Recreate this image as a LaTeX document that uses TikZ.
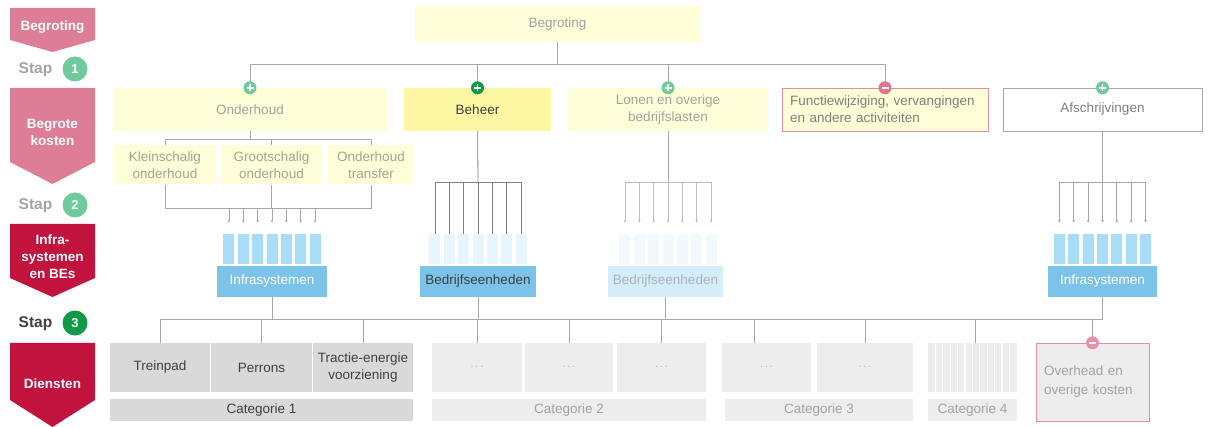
\documentclass[tikz,border=0pt]{standalone}
\usepackage{fontspec}
\setmainfont{Liberation Sans}
\usetikzlibrary{arrows.meta}

\definecolor{pinkarrow}{HTML}{DE7E96}
\definecolor{redarrow}{HTML}{C2123E}
\definecolor{lightgreen}{HTML}{6FCB9C}
\definecolor{darkgreen}{HTML}{0F9B45}
\definecolor{paleyellow}{HTML}{FEFED8}
\definecolor{beheeryellow}{HTML}{FDF7A4}
\definecolor{linegray}{HTML}{A8A8A8}
\definecolor{darkline}{HTML}{7F7F7F}
\definecolor{paleline}{HTML}{BDBDBD}
\definecolor{textgray}{HTML}{A3A3A3}
\definecolor{subtext}{HTML}{A5A596}
\definecolor{darktext}{HTML}{404040}
\definecolor{pinkline}{HTML}{E68BA1}
\definecolor{signpink}{HTML}{E07592}
\definecolor{barblue}{HTML}{A9DCF8}
\definecolor{boxblue}{HTML}{7CC3EA}
\definecolor{palebar}{HTML}{E8F5FC}
\definecolor{palerbar}{HTML}{F2F9FD}
\definecolor{palebox}{HTML}{D4EDFB}
\definecolor{servgray}{HTML}{D9D9D9}
\definecolor{lightserv}{HTML}{EDEDED}

\begin{document}
\begin{tikzpicture}[x=1pt, y=-1pt, font=\fontsize{13.5}{17}\selectfont,
    box/.style={inner sep=0pt, align=center, fill=paleyellow, text=textgray, minimum height=43pt},
    subbox/.style={inner sep=0pt, align=center, fill=paleyellow, text=subtext, minimum height=39pt},
    bluebox/.style={inner sep=0pt, fill=boxblue, text=white, minimum height=31pt},
    fanbar/.style={inner sep=0pt, minimum width=11pt, minimum height=30pt, fill=#1},
    serv/.style={inner sep=0pt, align=center, fill=servgray, text=darktext, minimum height=49pt},
    pale/.style={inner sep=0pt, fill=lightserv, text=textgray, minimum height=49pt,
        font=\fontsize{11}{11}\selectfont},
    cat/.style={inner sep=0pt, fill=servgray, text=darktext, minimum height=22pt},
    link/.style={draw=linegray, line width=0.8pt},
    fantip/.style={-{Stealth[length=3pt,width=2.5pt]}, shorten >=11pt},
    sign/.style={circle, fill=#1, minimum size=13pt, inner sep=0pt},
    plussign/.style={sign=#1, path picture={
        \draw[white, line width=1.5pt]
          ([xshift=-3.5pt]path picture bounding box.center) -- ([xshift=3.5pt]path picture bounding box.center)
          ([yshift=-3.5pt]path picture bounding box.center) -- ([yshift=3.5pt]path picture bounding box.center);}},
    minsign/.style={sign=#1, path picture={
        \draw[white, line width=1.5pt]
          ([xshift=-3.5pt]path picture bounding box.center) -- ([xshift=3.5pt]path picture bounding box.center);}},
    chev/.style={text=white, font=\fontsize{13.5}{17}\selectfont\bfseries, align=center},
    staptext/.style={text=#1, font=\fontsize{15.5}{16}\selectfont\bfseries},
    stapnum/.style={circle, fill=#1, text=white, minimum size=25pt, inner sep=0pt,
        font=\fontsize{13}{13}\selectfont\bfseries}]

    \useasboundingbox (0,0) rectangle (1211,427);

    % left column
    \fill[pinkarrow] (10,8) -- (95,8) -- (95,40) -- (52.5,52) -- (10,40) -- cycle;
    \node[chev] (aBegroting) at (52.5,27) {Begroting};
    \node[staptext=textgray] (stap1) at (35.5,70) {Stap};
    \node[stapnum=lightgreen] (num1) at (75,69) {1};
    \fill[pinkarrow] (10,88) -- (95,88) -- (95,162) -- (52.5,184) -- (10,162) -- cycle;
    \node[chev] (aKosten) at (52.5,132) {Begrote\\kosten};
    \node[staptext=textgray] (stap2) at (35.5,206) {Stap};
    \node[stapnum=lightgreen] (num2) at (75,205) {2};
    \fill[redarrow] (10,224) -- (95,224) -- (95,278) -- (52.5,297) -- (10,278) -- cycle;
    \node[chev] (aInfra) at (52.5,257) {Infra-\\systemen\\en BEs};
    \node[staptext=darktext] (stap3) at (35.5,324) {Stap};
    \node[stapnum=darkgreen] (num3) at (75,323) {3};
    \fill[redarrow] (10,343) -- (95,343) -- (95,400) -- (52.5,427) -- (10,400) -- cycle;
    \node[chev] (aDiensten) at (52.5,384) {Diensten};

    % begroting and costs
    \node[box, minimum width=285pt, minimum height=36pt] (begr) at (557.5,24) {Begroting};
    \coordinate (jTop) at (557.5,64);
    \node[box, minimum width=274pt] (ond) at (250,109.5) {Onderhoud};
    \node[box, fill=beheeryellow, text=darktext, minimum width=147pt] (beh) at (477.5,109.5) {Beheer};
    \node[box, minimum width=200pt] (lon) at (668,109.5) {Lonen en overige\\bedrijfslasten};
    \node[box, draw=pinkline, align=left, text=gray, text width=190pt, inner xsep=8pt] (fun) at (885,109.5)
        {Functiewijziging, vervangingen\\en andere activiteiten};
    \node[box, fill=white, draw=linegray, text=gray, minimum width=199pt] (afs) at (1102.5,109.5) {Afschrijvingen};

    \draw[link] (begr) -- (jTop);
    \draw[link] (ond.north |- jTop) -- (fun.north |- jTop);
    \foreach \n in {ond,beh,lon,fun}
        \draw[link] (\n.north |- jTop) -- (\n.north);

    % onderhoud split
    \node[subbox, minimum width=102pt] (klein) at (165,165) {Kleinschalig\\onderhoud};
    \node[subbox, minimum width=101pt] (groot) at (271.5,165) {Grootschalig\\onderhoud};
    \node[subbox, minimum width=86pt] (transf) at (371,165) {Onderhoud\\transfer};
    \coordinate (jOnd) at (250,139);
    \draw[link] (ond) -- (jOnd);
    \draw[link] (klein.north) -- (klein.north |- jOnd) -- (transf.north |- jOnd) -- (transf.north);
    \draw[link] (groot.north |- jOnd) -- (groot.north);

    % fans to infrasystemen / bedrijfseenheden
    \coordinate (jInfA) at (272,208);
    \coordinate (jBeh) at (478,182);
    \coordinate (jLon) at (668,182);
    \coordinate (jAfs) at (1102.5,182);
    \foreach \i in {0,...,6} {
        \node[fanbar=barblue] (ia\i) at ({272+(\i-3)*14.35},249) {};
        \node[fanbar=palebar] (ba\i) at ({478+(\i-3)*14.35},249) {};
        \node[fanbar=palerbar] (bb\i) at ({668+(\i-3)*14.35},249) {};
        \node[fanbar=barblue] (ib\i) at ({1102.5+(\i-3)*14.35},249) {};
        \draw[link, fantip] (ia\i.north |- jInfA) -- (ia\i.north);
        \draw[link, draw=darkline] (ba\i.north |- jBeh) -- (ba\i.north);
        \draw[link, draw=paleline, fantip] (bb\i.north |- jLon) -- (bb\i.north);
        \draw[link, fantip] (ib\i.north |- jAfs) -- (ib\i.north);
    }
    \draw[link] (klein.south) -- (klein.south |- jInfA) -- (transf.south |- jInfA) -- (transf.south);
    \draw[link] (groot.south) -- (groot.south |- jInfA);
    \draw[link, draw=darkline] (beh) -- (jBeh);
    \draw[link, draw=darkline] (ba0.north |- jBeh) -- (ba6.north |- jBeh);
    \draw[link] (lon) -- (jLon);
    \draw[link, draw=paleline] (bb0.north |- jLon) -- (bb6.north |- jLon);
    \draw[link] (afs) -- (jAfs);
    \draw[link] (ib0.north |- jAfs) -- (ib6.north |- jAfs);

    \node[bluebox, minimum width=110pt] (infA) at (272,281.5) {Infrasystemen};
    \node[bluebox, text=darktext, minimum width=116pt] (bedA) at (478,281.5) {Bedrijfseenheden};
    \node[bluebox, fill=palebox, text=textgray!80!palebox, minimum width=115pt] (bedB) at (665.5,281.5) {Bedrijfseenheden};
    \node[bluebox, minimum width=109pt] (infB) at (1102.5,281.5) {Infrasystemen};

    % services
    \node[serv, minimum width=100pt] (trein) at (160,367.5) {Treinpad};
    \node[serv, minimum width=101pt] (perr) at (261.5,367.5) {Perrons};
    \node[serv, minimum width=100pt] (tract) at (363,367.5) {Tractie-energie\\voorziening};
    \node[cat, minimum width=303pt] (cat1) at (261.5,410) {Categorie 1};
    \node[pale, minimum width=90pt] (c2a) at (477,367.5) {$\cdots$};
    \node[pale, minimum width=88pt] (c2b) at (569,367.5) {$\cdots$};
    \node[pale, minimum width=89pt] (c2c) at (661.5,367.5) {$\cdots$};
    \node[cat, fill=lightserv, text=textgray, minimum width=274pt] (cat2) at (569,410) {Categorie 2};
    \node[pale, minimum width=89pt] (c3a) at (766.5,367.5) {$\cdots$};
    \node[pale, minimum width=96pt] (c3b) at (865,367.5) {$\cdots$};
    \node[cat, fill=lightserv, text=textgray, minimum width=188pt] (cat3) at (819,410) {Categorie 3};
    \node[pale, minimum width=89pt] (c4a) at (972.5,367.5) {};
    \foreach \k in {1,...,11}
        \draw[white, line width=1.3pt] ({928+\k*7.4},343) -- ({928+\k*7.4},392);
    \node[cat, fill=lightserv, text=textgray, minimum width=89pt] (cat4) at (972.5,410) {Categorie 4};
    \node[inner sep=0pt, fill=lightserv, draw=pinkline, text=textgray, align=left, text width=97pt,
        inner xsep=8pt, minimum height=78pt, font=\fontsize{13.5}{19}\selectfont] (ovh) at (1092.5,382)
        {Overhead en\\overige kosten};

    \coordinate (jSrv) at (272,319);
    \draw[link] (infA) -- (jSrv);
    \draw[link] (bedA) -- (bedA |- jSrv);
    \draw[link] (bedB) -- (bedB |- jSrv);
    \draw[link] (infB) -- (infB |- jSrv);
    \draw[link] (trein.north |- jSrv) -- (infB.south |- jSrv);
    \foreach \n in {trein,perr,tract,c2a,c2b,c2c,c3b,ovh}
        \draw[link] (\n.north |- jSrv) -- (\n.north);
    \draw[link] ([xshift=-12.5pt]c3a.north |- jSrv) -- ([xshift=-12.5pt]c3a.north);
    \draw[link] ([xshift=3pt]c4a.north |- jSrv) -- ([xshift=3pt]c4a.north);

    % plus and minus signs
    \node[plussign=lightgreen] (sOnd) at (ond.north) {};
    \node[plussign=darkgreen] (sBeh) at (beh.north) {};
    \node[plussign=lightgreen] (sLon) at (lon.north) {};
    \node[minsign=signpink] (sFun) at (fun.north) {};
    \node[plussign=lightgreen] (sAfs) at (afs.north) {};
    \node[minsign=signpink!80] (sOvh) at (ovh.north) {};
\end{tikzpicture}
\end{document}
